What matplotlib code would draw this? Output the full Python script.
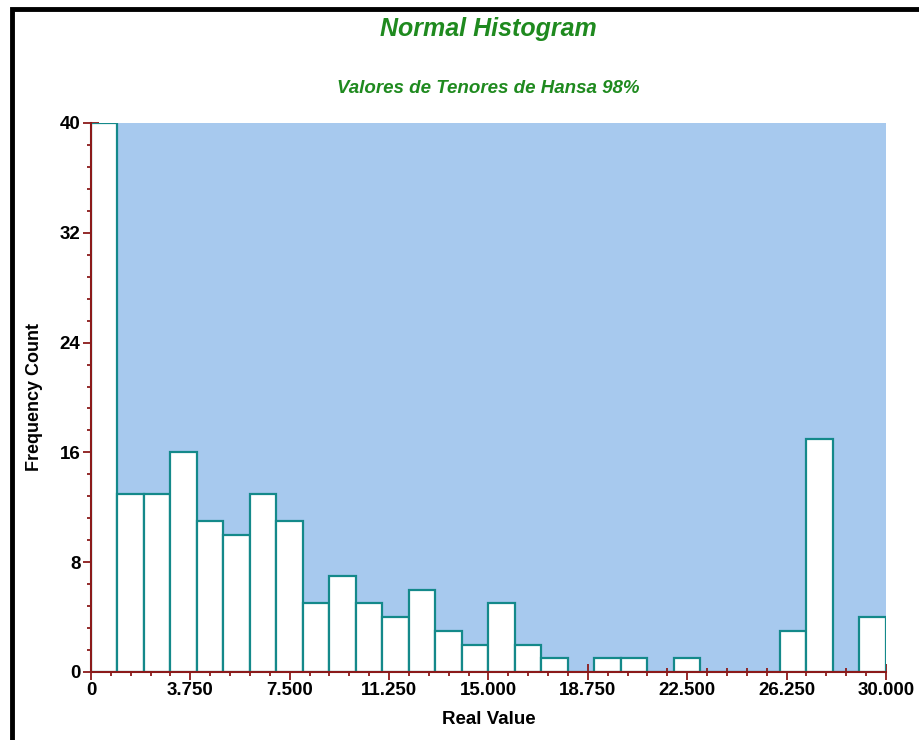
import matplotlib.pyplot as plt
from matplotlib.ticker import MultipleLocator
from matplotlib.patches import Rectangle

# histogram bins (width 1) and counts
bin_left = list(range(0, 30))
counts = [40, 13, 13, 16, 11, 10, 13, 11, 5, 7,
          5, 4, 6, 3, 2, 5, 2, 1, 0, 1,
          1, 0, 1, 0, 0, 0, 3, 17, 0, 4]
x_ticks = [0, 3.75, 7.5, 11.25, 15, 18.75, 22.5, 26.25, 30]
x_labels = ['0', '3.750', '7.500', '11.250', '15.000', '18.750', '22.500', '26.250', '30.000']
y_ticks = [0, 8, 16, 24, 32, 40]

plt.rcParams['font.family'] = ['Liberation Sans', 'DejaVu Sans']

fig = plt.figure(figsize=(9.2, 7.4), dpi=100)
ax = fig.add_axes([0.0989, 0.0919, 0.8641, 0.7419])

ax.set_facecolor('#a7c9ee')
ax.bar(bin_left, counts, width=1, align='edge', color='white',
       edgecolor='#14898a', linewidth=1.6, zorder=3)

ax.set_xlim(0, 30)
ax.set_ylim(0, 40)
ax.set_xticks(x_ticks)
ax.set_xticklabels(x_labels)
ax.xaxis.set_minor_locator(MultipleLocator(0.75))
ax.set_yticks(y_ticks)
ax.yaxis.set_minor_locator(MultipleLocator(1.6))

axis_red = '#8b1a1a'
for side in ['top', 'right']:
    ax.spines[side].set_visible(False)
for side in ['left', 'bottom']:
    ax.spines[side].set_color(axis_red)
    ax.spines[side].set_linewidth(1.5)
    ax.spines[side].set_zorder(5)

ax.tick_params(which='major', direction='inout', length=11, width=1.3,
               color=axis_red, labelsize=13.5, pad=2)
ax.tick_params(which='minor', direction='inout', length=6, width=1.3,
               color=axis_red)
for lab in ax.get_xticklabels() + ax.get_yticklabels():
    lab.set_fontweight('bold')

ax.set_xlabel('Real Value', fontsize=13.5, fontweight='bold', labelpad=8)
ax.set_ylabel('Frequency Count', fontsize=13, fontweight='bold', labelpad=12)

green = '#1f8a1f'
fig.text(0.531, 0.961, 'Normal Histogram', ha='center', va='center',
         fontsize=18, fontweight='bold', fontstyle='italic', color=green)
fig.text(0.531, 0.881, 'Valores de Tenores de Hansa 98%', ha='center', va='center',
         fontsize=13.5, fontweight='bold', fontstyle='italic', color=green)

# black frame on left and top edges of the screenshot
fig.patches.append(Rectangle((0.0125, -0.05), 1.1, 1.038, transform=fig.transFigure,
                             fill=False, edgecolor='black', linewidth=3.5))

fig.savefig('out.png', dpi=100)
